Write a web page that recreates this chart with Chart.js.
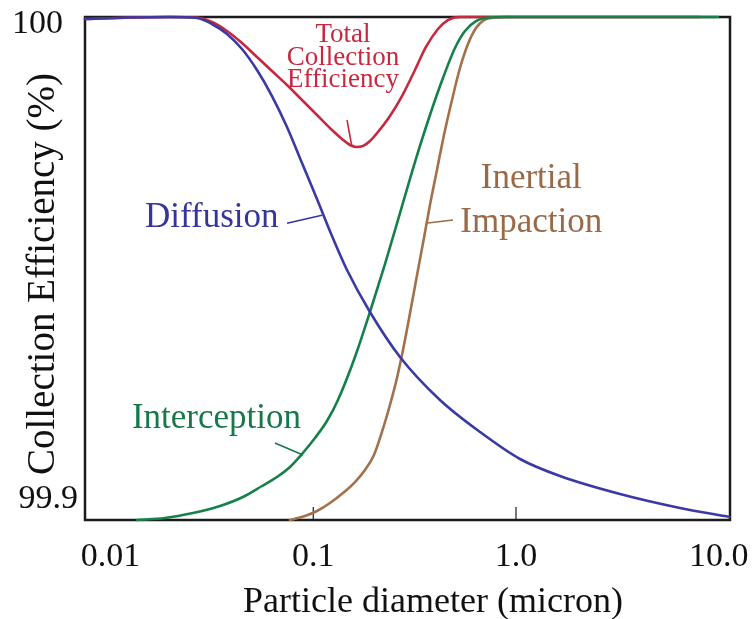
<!DOCTYPE html>
<html>
<head>
<meta charset="utf-8">
<title>Collection Efficiency vs Particle Diameter</title>
<script src="https://cdn.jsdelivr.net/npm/chart.js@4.4.1/dist/chart.umd.min.js"></script>
<style>
  html, body { margin: 0; padding: 0; background: #fff; }
  canvas { display: block; }
</style>
</head>
<body>
<canvas id="efficiency-chart" width="756" height="619"></canvas>
<script>
// Particle diameter (micron) / collection efficiency (%) for each capture mechanism
const diffusionDiameter = [0.00748, 0.01246, 0.01963, 0.02668, 0.03164, 0.03752, 0.04449, 0.05277, 0.06257, 0.07419, 0.08797, 0.1043, 0.1237, 0.1467, 0.1904, 0.2678, 0.4218, 0.6644, 1.0465, 1.648, 3.260, 6.444, 11.3];
const diffusionEff = [99.99960, 99.99990, 100, 99.99980, 99.99861, 99.99662, 99.99364, 99.98946, 99.98429, 99.97813, 99.97097, 99.96382, 99.95646, 99.94970, 99.94135, 99.93241, 99.92386, 99.91750, 99.91213, 99.90875, 99.90517, 99.90239, 99.90060];

const interceptionDiameter = [0.01349, 0.01855, 0.02550, 0.03465, 0.04498, 0.05583, 0.06620, 0.07676, 0.08797, 0.10195, 0.11683, 0.13236, 0.16062, 0.19041, 0.22579, 0.26779, 0.31746, 0.37640, 0.43637, 0.5000, 0.56024, 0.63487, 0.74424, 0.8825, 9.92];
const interceptionEff = [99.9, 99.90040, 99.90139, 99.90278, 99.90457, 99.90676, 99.90855, 99.91054, 99.91312, 99.91630, 99.91968, 99.92386, 99.93241, 99.94135, 99.95089, 99.96103, 99.97117, 99.98052, 99.98787, 99.99384, 99.99722, 99.99920, 99.99990, 100, 100];

const impactionDiameter = [0.07676, 0.09101, 0.1043, 0.12089, 0.1401, 0.16062, 0.17993, 0.19929, 0.21822, 0.23896, 0.25874, 0.28023, 0.30339, 0.32845, 0.35164, 0.37640, 0.40756, 0.44137, 0.48339, 0.52931, 0.57977, 0.63487, 0.69535, 0.78758, 0.93411];
const impactionEff = [99.9, 99.90080, 99.90179, 99.90338, 99.90537, 99.90755, 99.90994, 99.91292, 99.91750, 99.92286, 99.92823, 99.93479, 99.94215, 99.94970, 99.95606, 99.96262, 99.96958, 99.97654, 99.98350, 99.98986, 99.99463, 99.99781, 99.99940, 99.99990, 100];

const totalDiameter = [0.00748, 0.01246, 0.01963, 0.02668, 0.03164, 0.03752, 0.04449, 0.05277, 0.06257, 0.07419, 0.08797, 0.1043, 0.1237, 0.13855, 0.15176, 0.16244, 0.17588, 0.19041, 0.20851, 0.23896, 0.27391, 0.31402, 0.35975, 0.41228, 0.4618, 0.52931, 8.087];
const totalEff = [99.99960, 99.99990, 100, 99.99990, 99.99901, 99.99722, 99.99483, 99.99205, 99.98926, 99.98648, 99.98350, 99.98052, 99.97753, 99.97575, 99.97455, 99.97416, 99.97435, 99.97535, 99.97714, 99.98032, 99.98429, 99.98907, 99.99404, 99.99761, 99.99940, 100, 100];

const xTickValues = [0.01, 0.1, 1, 10];
const xTickLabels = ['0.01', '0.1', '1.0', '10.0'];
const yTickValues = [99.9, 100];
const yTickLabels = ['99.9', '100'];

const BLUE = '#3a3aa6';
const RED = '#c8283e';
const GREEN = '#16804a';
const BROWN = '#a2714b';
const SERIF = '"Liberation Serif", "Times New Roman", serif';

const toPoints = (xs, ys) => xs.map((x, i) => ({ x, y: ys[i] }));

// Curve labels with their leader lines, anchored in data units
const curveNotes = [
  { text: ['Diffusion'], color: '#35359c', size: 35, align: 'left', at: [0.01478, 99.95825],
    leader: [[0.0742, 99.9590], [0.1104, 99.9606]] },
  { text: ['Interception'], color: '#17784a', size: 35, align: 'left', at: [0.01275, 99.91829],
    leader: [[0.0647, 99.91531], [0.0890, 99.91292]] },
  { text: ['Inertial', 'Impaction'], color: '#9a6a48', size: 35, align: 'center', at: [1.19, 99.9660], lineGap: 0.0088,
    leader: [[0.3681, 99.95905], [0.4887, 99.95964]] },
  { text: ['Total', 'Collection', 'Efficiency'], color: RED, size: 27, align: 'center', at: [0.1401, 99.99503], lineGap: 0.00448,
    leader: [[0.1467, 99.97952], [0.1552, 99.97416]] }
];

const figurePlugin = {
  id: 'figureNotes',
  beforeDatasetsDraw(chart) {
    const { ctx, chartArea: a, scales: { x } } = chart;
    ctx.save();
    ctx.strokeStyle = '#1b1b1b';
    ctx.lineWidth = 2.5;
    ctx.strokeRect(a.left, a.top, a.right - a.left, a.bottom - a.top);
    // small inward ticks on the inner decades
    ctx.lineWidth = 1.2;
    [0.1, 1].forEach(v => {
      const px = x.getPixelForValue(v);
      ctx.beginPath();
      ctx.moveTo(px, a.bottom);
      ctx.lineTo(px, a.bottom - 13);
      ctx.stroke();
    });
    ctx.restore();
  },
  afterDatasetsDraw(chart) {
    const { ctx, chartArea: a, scales: { x, y } } = chart;
    ctx.save();
    curveNotes.forEach(n => {
      ctx.strokeStyle = n.color;
      ctx.lineWidth = 1.6;
      ctx.beginPath();
      ctx.moveTo(x.getPixelForValue(n.leader[0][0]), y.getPixelForValue(n.leader[0][1]));
      ctx.lineTo(x.getPixelForValue(n.leader[1][0]), y.getPixelForValue(n.leader[1][1]));
      ctx.stroke();

      ctx.fillStyle = n.color;
      ctx.font = `${n.size}px ${SERIF}`;
      ctx.textAlign = n.align;
      ctx.textBaseline = 'alphabetic';
      n.text.forEach((line, i) => {
        const val = n.at[1] - i * (n.lineGap || 0);
        ctx.fillText(line, x.getPixelForValue(n.at[0]), y.getPixelForValue(val));
      });
    });

    // y tick labels, nudged inside the axis span like the printed figure
    ctx.fillStyle = '#111';
    ctx.font = `34px ${SERIF}`;
    ctx.textAlign = 'right';
    ctx.textBaseline = 'alphabetic';
    const nudge = { '100': [22, 16], '99.9': [7, -12] };
    yTickValues.forEach((v, i) => {
      const lab = yTickLabels[i];
      ctx.fillText(lab, a.left - nudge[lab][0], y.getPixelForValue(v) + nudge[lab][1]);
    });

    // axis titles
    ctx.font = `36px ${SERIF}`;
    ctx.textAlign = 'center';
    ctx.fillText('Particle diameter (micron)', 433, 612);
    ctx.translate(44, 274);
    ctx.rotate(-Math.PI / 2);
    ctx.textBaseline = 'middle';
    ctx.font = `39px ${SERIF}`;
    ctx.fillText('Collection Efficiency (%)', 0, 0);
    ctx.restore();
  }
};

const line = (label, xs, ys, color) => ({
  label,
  data: toPoints(xs, ys),
  borderColor: color,
  borderWidth: 2.6,
  pointRadius: 0,
  cubicInterpolationMode: 'monotone',
  borderCapStyle: 'round',
  clip: 6
});

new Chart(document.getElementById('efficiency-chart'), {
  type: 'line',
  data: {
    // first dataset is painted last, so blue/green sit on top
    datasets: [
      line('Diffusion', diffusionDiameter, diffusionEff, BLUE),
      line('Interception', interceptionDiameter, interceptionEff, GREEN),
      line('Inertial Impaction', impactionDiameter, impactionEff, BROWN),
      line('Total Collection Efficiency', totalDiameter, totalEff, RED)
    ]
  },
  options: {
    responsive: false,
    animation: false,
    devicePixelRatio: 1,
    layout: { padding: { top: 17, right: 26, left: 0, bottom: 0 } },
    plugins: { legend: { display: false }, tooltip: { enabled: false } },
    scales: {
      x: {
        type: 'logarithmic',
        min: 0.00748,
        max: 11.37,
        afterBuildTicks: s => { s.ticks = xTickValues.map(v => ({ value: v })); },
        afterFit: s => {
          s.height = 99;
          s.paddingLeft = 0;   // let "10.0" hang past the frame
          s.paddingRight = 0;
        },
        grid: { display: false, drawTicks: false },
        border: { display: false },
        ticks: {
          autoSkip: false,
          maxRotation: 0,
          padding: 17,
          color: '#111',
          font: { family: SERIF, size: 34 },
          callback: v => xTickLabels[xTickValues.indexOf(v)]
        }
      },
      y: {
        type: 'linear',
        min: 99.9,
        max: 100,
        afterFit: s => {
          s.width = 85;
          s.paddingTop = 0;
          s.paddingBottom = 0;
        },
        grid: { display: false, drawTicks: false },
        border: { display: false },
        ticks: { display: false }
      }
    }
  },
  plugins: [figurePlugin]
});
</script>
</body>
</html>
